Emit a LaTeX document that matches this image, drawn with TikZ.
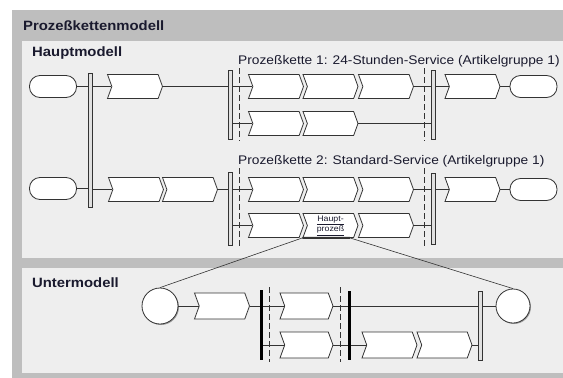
\documentclass[tikz,border=0pt]{standalone}
\usepackage{fontspec}
\setmainfont{Liberation Sans}[FakeStretch=1.1]
\usetikzlibrary{positioning,shapes.symbols,shadows,calc}
\definecolor{pframe}{HTML}{BEBEBE}
\definecolor{ppanel}{HTML}{EEEEEE}
\definecolor{pline}{HTML}{333333}
\definecolor{ptext}{HTML}{1A1A2E}
\tikzset{
  proc/.style={signal,signal to=east,signal from=west,signal pointer angle=140,draw=pline,fill=white,line width=0.8pt,minimum width=55pt,minimum height=24pt,inner sep=0pt},
  term/.style={draw=pline,fill=white,rounded corners=10.5pt,line width=0.8pt,minimum width=47pt,minimum height=22pt,inner sep=0pt},
  hbar/.style={draw=pline,fill=black!12,line width=0.6pt,minimum width=4pt,inner sep=0pt},
  tbar/.style={fill=black,minimum width=2.8pt,inner sep=0pt},
  sync/.style={draw=pline,line width=0.8pt,dash pattern=on 6pt off 3pt},
  evt/.style={circle,draw=pline,fill=white,line width=0.8pt,inner sep=0pt,drop shadow={shadow xshift=1pt,shadow yshift=-1pt,fill=black!70}},
  flow/.style={draw=pline,line width=0.8pt},
  ttl/.style={font=\fontsize{13.5}{15}\selectfont\bfseries,text=ptext,anchor=west,inner sep=0pt},
  lbl/.style={font=\fontsize{12.5}{14}\selectfont,text=ptext,anchor=west,inner sep=0pt},
}
\begin{document}
\begin{tikzpicture}[x=1pt,y=-1pt]
  \useasboundingbox (0,0) rectangle (563,378);
  % frames
  \fill[pframe] (12,10) rectangle (563,378);
  \fill[ppanel] (22,41) rectangle (563,258);
  \fill[ppanel] (22,268) rectangle (563,373);
  \node[ttl] (ttlm) at (23,26) {Prozeßkettenmodell};
  \node[ttl] (ttlh) at (32,53) {Hauptmodell};
  \node[ttl] (ttlu) at (32,283) {Untermodell};
  \node[lbl] (pk1) at (238,61) {Prozeßkette 1: 24-Stunden-Service (Artikelgruppe 1)};
  \node[lbl] (pk2) at (238,161) {Prozeßkette 2: Standard-Service (Artikelgruppe 1)};

  % Hauptmodell, Prozesskette 1
  \node[term] (ta1) at (53,86.5) {};
  \node[hbar,minimum height=134pt] (b1) at (90,140) {};
  \node[proc] (a1) at (135,86.5) {};
  \node[hbar,minimum height=69pt] (b2) at (230,104.5) {};
  \node[proc] (k11) at (276,86.5) {};
  \node[proc] (k12) at (330.5,86.5) {};
  \node[proc] (k13) at (386,86.5) {};
  \node[proc] (k21) at (276,123.5) {};
  \node[proc] (k22) at (330.5,123.5) {};
  \node[hbar,minimum height=69pt] (b3) at (433,104.5) {};
  \node[proc] (a5) at (472.5,86.5) {};
  \node[term] (ta2) at (533.5,86.5) {};
  \draw[sync] (239,68) -- (239,141);
  \draw[sync] (424,68) -- (424,141);

  % Hauptmodell, Prozesskette 2
  \node[term] (tc1) at (53,188.5) {};
  \node[proc] (c1) at (136,189.5) {};
  \node[proc] (c2) at (190,189.5) {};
  \node[hbar,minimum height=73pt] (b4) at (230,208.5) {};
  \node[proc] (m11) at (276,189.5) {};
  \node[proc] (m12) at (330.5,189.5) {};
  \node[proc] (m13) at (386,189.5) {};
  \node[proc] (m21) at (276,225.5) {};
  \node[proc,align=center,font=\fontsize{8}{8.5}\selectfont,text=ptext] (hp) at (330.5,225.5) {\underline{Haupt-}\\\underline{prozeß}};
  \node[proc] (m23) at (386,225.5) {};
  \node[hbar,minimum height=71pt] (b5) at (433,208.5) {};
  \node[proc] (c6) at (472.5,189.5) {};
  \node[term] (tc2) at (533.5,189.5) {};
  \draw[sync] (239,168) -- (239,247);
  \draw[sync] (424,168) -- (424,247);
  \draw[pline,line width=2pt] (hp.south west) -- ($(hp.south east)+(-4,0)$);

  % Untermodell
  \node[evt,minimum size=36pt] (s1) at (160,306) {};
  \node[proc,minimum height=26pt] (u1) at (222,306) {};
  \node[tbar,minimum height=70pt] (ub1) at (261.5,325) {};
  \node[proc,minimum height=26pt,minimum width=53pt] (ur1) at (306.5,306) {};
  \node[proc,minimum height=26pt,minimum width=53pt] (ur2) at (306.5,345) {};
  \node[tbar,minimum height=69pt] (ub2) at (349.5,325.5) {};
  \node[proc,minimum height=26pt] (uv1) at (389.5,345) {};
  \node[proc,minimum height=26pt] (uv2) at (444.5,345) {};
  \node[hbar,minimum height=69pt] (ub3) at (480,325.5) {};
  \node[evt,minimum size=34pt] (s2) at (513,306) {};
  \draw[sync] (269,287) -- (269,362);
  \draw[sync] (340,287) -- (340,362);

  % Verbindungen
  \foreach \a/\b in {ta1/b1,a1/b2,k13/b3,k22/b3,tc1/b1,c2/b4,m13/b5,m23/b5,u1/ub1,ur1/ub2,ur2/ub2,uv2/ub3}
    \draw[flow] (\a.east) -- (\a.east -| \b.west);
  \foreach \a/\b in {b1/a1,b2/k11,b2/k21,b3/a5,b1/c1,b4/m11,b4/m21,b5/c6,ub1/ur1,ub1/ur2,ub2/uv1,ub3/s2}
    \draw[flow] (\b.west -| \a.east) -- (\b.west);
  \foreach \a/\b in {a5/ta2,c6/tc2,s1/u1}
    \draw[flow] (\a.east) -- (\b.west);
  \draw[flow] (ur1.east -| ub2.east) -- (ur1.east -| ub3.west);
  \draw[pline,line width=0.6pt] (hp.south west) -- (s1.north);
  \draw[pline,line width=0.6pt] ($(hp.south east)+(-4,0)$) -- (s2.north);
\end{tikzpicture}
\end{document}
